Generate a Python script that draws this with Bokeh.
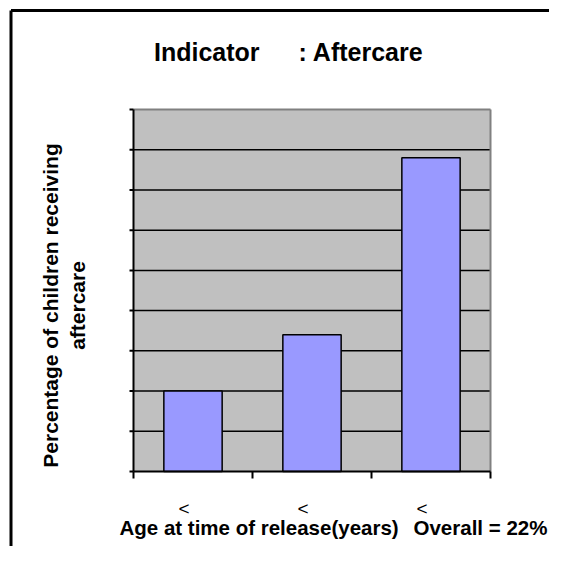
from bokeh.plotting import figure
from bokeh.models import Range1d
from bokeh.core.properties import value
from bokeh.embed import file_html
from bokeh.resources import INLINE
import numpy as np

# ---- data ----
categories = ["<", "<", "<"]
values = [10.0, 17.0, 39.0]
y_ticks = [0, 5, 10, 15, 20, 25, 30, 35, 40, 45]
title_parts = ["Indicator", ": Aftercare"]
ylabel_lines = ["Percentage of children receiving", "aftercare"]
xlabel_parts = ["Age at time of release(years)", "Overall = 22%"]

FONT = "Liberation Sans"
W, H = 549, 546

n = len(categories)
ymin, ymax = y_ticks[0], y_ticks[-1]

# plot-area placement on the canvas (pixels)
PL, PR, PT, PB = 133, 490, 109, 471
ppx = (PR - PL) / n
ppy = (PB - PT) / (ymax - ymin)
def xd(px):
    return (px - PL) / ppx
def yd(py):
    return ymin + (PB - py) / ppy

p = figure(width=W, height=H, output_backend="svg", toolbar_location=None,
           x_range=Range1d(xd(0), xd(W)), y_range=Range1d(yd(H), yd(0)),
           x_axis_location=None, y_axis_location=None, min_border=0)
p.grid.visible = False
p.outline_line_color = None
p.background_fill_color = "white"
p.border_fill_color = "white"

x = np.arange(n) + 0.5

# plot area
p.quad(left=[0], right=[n], bottom=[ymin], top=[ymax], fill_color="#C0C0C0", line_color=None)

# horizontal grid lines
grid_y = y_ticks[1:-1]
p.segment(x0=[0] * len(grid_y), x1=[n] * len(grid_y), y0=grid_y, y1=grid_y,
          line_color="black", line_width=1.5)

# plot-area outline (top / right)
p.segment(x0=[0, n], x1=[n, n], y0=[ymax, ymin], y1=[ymax, ymax],
          line_color="#808080", line_width=2)

# bars
p.vbar(x=x, top=values, width=0.49, bottom=ymin, fill_color="#9999FF",
       line_color="black", line_width=1.5)

# y axis line + ticks
p.segment(x0=[0], x1=[0], y0=[ymin], y1=[ymax], line_color="black", line_width=2)
p.segment(x0=[0] * len(y_ticks), x1=[-4 / ppx] * len(y_ticks), y0=y_ticks, y1=y_ticks,
          line_color="black", line_width=2)
# x axis line + ticks (category boundaries)
xt = list(range(n + 1))
p.segment(x0=[0], x1=[n], y0=[ymin], y1=[ymin], line_color="black", line_width=2)
p.segment(x0=xt, x1=xt, y0=[ymin] * len(xt), y1=[ymin - 7 / ppy] * len(xt),
          line_color="black", line_width=2)

# outer chart border (continues past the right and bottom edges)
p.segment(x0=[xd(10.5), xd(10.5)], x1=[xd(10.5), xd(W + 20)],
          y0=[yd(10), yd(10)], y1=[yd(H + 20), yd(10)],
          line_color="black", line_width=3)

# title
p.text(x=[xd(153.5), xd(298)], y=[yd(51.7), yd(51.7)], text=title_parts,
       text_font=value(FONT), text_font_size=value("25px"), text_font_style="bold",
       text_align="left", text_baseline="alphabetic", text_color="black")

# y label (two rotated lines)
p.text(x=[xd(50), xd(77)], y=[yd(305), yd(305)], text=ylabel_lines, angle=np.pi / 2,
       text_font=value(FONT), text_font_size=value("21px"), text_font_style="bold",
       text_align="center", text_baseline="middle", text_color="black")

# category labels
p.text(x=x, y=[yd(508)] * n, x_offset=-9, text=categories,
       text_font=value(FONT), text_font_size=value("19px"),
       text_align="center", text_baseline="alphabetic", text_color="black")

# x label
p.text(x=[xd(119), xd(413)], y=[yd(527.3), yd(527.3)], text=xlabel_parts,
       text_font=value(FONT), text_font_size=value("20.5px"), text_font_style="bold",
       text_align="left", text_baseline="alphabetic", text_color="black")

open("out.html", "w").write(file_html(p, INLINE))
